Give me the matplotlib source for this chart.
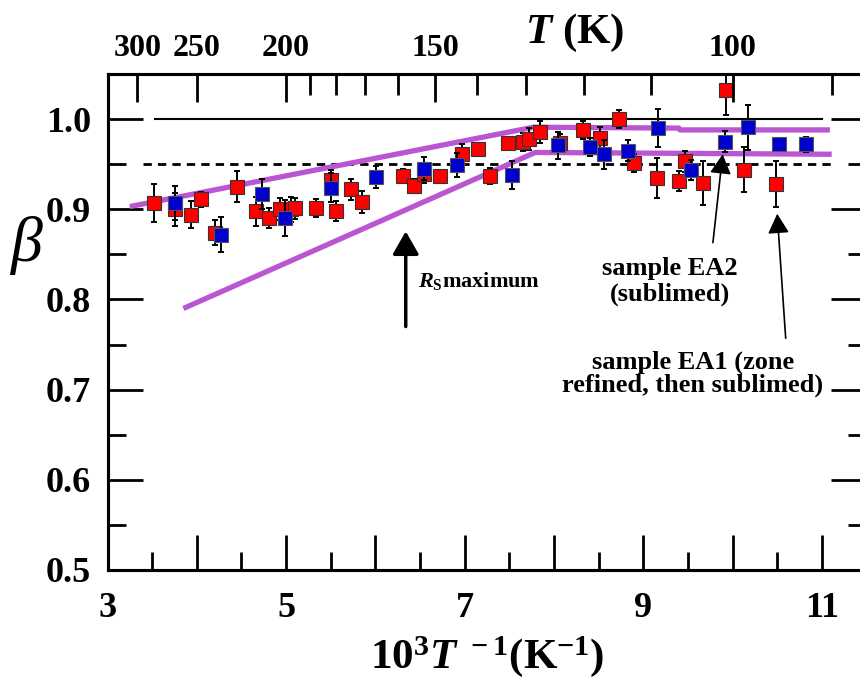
import matplotlib
matplotlib.use("Agg")
import matplotlib.pyplot as plt

plt.rcParams["font.family"] = ["Liberation Serif", "DejaVu Serif"]
plt.rcParams["font.weight"] = "bold"
plt.rcParams["mathtext.fontset"] = "custom"
plt.rcParams["mathtext.rm"] = "Liberation Serif:bold"
plt.rcParams["mathtext.it"] = "Liberation Serif:italic:bold"
plt.rcParams["mathtext.bf"] = "Liberation Serif:bold"

# sample EA1 (red) : 10^3/T, beta, error
red_x = [3.52, 3.76, 3.94, 4.05, 4.20, 4.45, 4.66, 4.81, 4.93, 5.06, 5.10, 5.34, 5.50,
         5.56, 5.73, 5.85, 6.31, 6.43, 6.54, 6.72, 6.97, 7.15, 7.28, 7.48, 7.65, 7.72,
         7.84, 8.07, 8.32, 8.51, 8.73, 8.90, 9.15, 9.40, 9.47, 9.67, 9.93, 10.13, 10.49]
red_y = [0.907, 0.900, 0.894, 0.911, 0.874, 0.925, 0.898, 0.890, 0.900, 0.900, 0.901, 0.901, 0.932,
         0.898, 0.922, 0.908, 0.937, 0.926, 0.939, 0.937, 0.961, 0.967, 0.937, 0.974, 0.975, 0.978,
         0.986, 0.974, 0.988, 0.979, 1.000, 0.951, 0.935, 0.931, 0.953, 0.929, 1.032, 0.944, 0.928]
red_err = [0.021, 0.018, 0.015, 0.008, 0.014, 0.017, 0.016, 0.011, 0.012, 0.014, 0.012, 0.010, 0.012,
           0.011, 0.012, 0.012, 0.008, 0.008, 0.010, 0.006, 0.011, 0.006, 0.009, 0.006, 0.010, 0.012,
           0.012, 0.010, 0.010, 0.012, 0.010, 0.010, 0.022, 0.011, 0.012, 0.024, 0.028, 0.025, 0.025]

# sample EA2 (blue)
blue_x = [3.76, 4.27, 4.73, 4.99, 5.50, 6.01, 6.54, 6.91, 7.53, 8.04, 8.40, 8.56, 8.83,
          9.17, 9.54, 9.92, 10.17, 10.52, 10.82]
blue_y = [0.907, 0.872, 0.917, 0.890, 0.924, 0.936, 0.945, 0.949, 0.938, 0.971, 0.969, 0.961, 0.965,
          0.990, 0.944, 0.975, 0.991, 0.972, 0.972]
blue_err = [0.019, 0.019, 0.017, 0.020, 0.016, 0.012, 0.013, 0.013, 0.016, 0.015, 0.010, 0.016, 0.012,
            0.021, 0.011, 0.012, 0.025, 0.004, 0.008]

# guide lines (purple envelope)
upper_x = [3.25, 7.77, 9.40, 9.41, 11.09]
upper_y = [0.903, 0.991, 0.990, 0.988, 0.988]
lower_x = [3.85, 7.79, 11.11]
lower_y = [0.790, 0.963, 0.961]

top_major_T = [300, 250, 200, 150, 100]
top_minor_T = [190, 180, 170, 160, 140, 130, 120, 110, 90]

fig = plt.figure(figsize=(8.6, 6.81), dpi=100)
ax = fig.add_axes([107.5 / 860, 111 / 681, 759 / 860, 496 / 681])
ax.set_xlim(3, 11.5)
ax.set_ylim(0.5, 1.05)

ax.plot([3.53, 11.0], [1.0, 1.0], color="black", lw=1.5, zorder=1)
ax.plot([3.4, 11.1], [0.95, 0.95], color="black", lw=2, linestyle=(0, (3, 2.2)), zorder=1)

purple = "#BA55D3"
ax.plot(upper_x, upper_y, color=purple, lw=3.8, solid_capstyle="butt", zorder=2)
ax.plot(lower_x, lower_y, color=purple, lw=3.8, solid_capstyle="butt", zorder=2)

ax.errorbar(red_x, red_y, yerr=red_err, fmt="none", ecolor="black", elinewidth=1.4,
            capsize=2.5, capthick=1.4, zorder=3)
ax.plot(red_x, red_y, "s", ms=9.5, mfc="#FF0000", mec="#333333", mew=0.8, zorder=4)
ax.errorbar(blue_x, blue_y, yerr=blue_err, fmt="none", ecolor="black", elinewidth=1.4,
            capsize=2.5, capthick=1.4, zorder=5)
ax.plot(blue_x, blue_y, "s", ms=9.5, mfc="#0000CC", mec="#555555", mew=0.8, zorder=6)

# annotations
ax.annotate("", xy=(6.34, 0.8755), xytext=(6.34, 0.77),
            arrowprops=dict(arrowstyle="-|>,head_width=8,head_length=14", mutation_scale=1,
                            lw=2.5, color="black", shrinkA=0, shrinkB=0))
ax.text(6.48, 0.821, r"$R_\mathrm{S}$maximum", fontsize=16, ha="left", va="center")

ax.annotate("", xy=(9.889, 0.961), xytext=(9.78, 0.863),
            arrowprops=dict(arrowstyle="-|>,head_width=6.5,head_length=12", mutation_scale=1,
                            lw=1.2, color="black", shrinkA=0, shrinkB=0))
ax.text(9.30, 0.820, "sample EA2\n(sublimed)", fontsize=19, ha="center", va="center",
        linespacing=1.1)

ax.annotate("", xy=(10.50, 0.895), xytext=(10.595, 0.757),
            arrowprops=dict(arrowstyle="-|>,head_width=6.5,head_length=12", mutation_scale=1,
                            lw=1.2, color="black", shrinkA=0, shrinkB=0))
ax.text(9.556, 0.7175, "sample EA1 (zone\nrefined, then sublimed)", fontsize=19,
        ha="center", va="center", linespacing=1.0)

# axes styling
for s in ax.spines.values():
    s.set_linewidth(2.2)
ax.set_xticks([3, 4, 5, 6, 7, 8, 9, 10, 11])
ax.set_xticklabels(["3", "", "5", "", "7", "", "9", "", "11"])
ax.set_xticks([3.5, 4.5, 5.5, 6.5, 7.5, 8.5, 9.5, 10.5], minor=True)
ax.set_yticks([0.5, 0.6, 0.7, 0.8, 0.9, 1.0])
ax.set_yticklabels(["0.5", "0.6", "0.7", "0.8", "0.9", "1.0"])
ax.set_yticks([0.55, 0.65, 0.75, 0.85, 0.95, 1.05], minor=True)
ax.tick_params(axis="both", which="major", direction="in", length=25, width=2, labelsize=26)
ax.tick_params(axis="both", which="minor", direction="in", length=13, width=2)
ax.tick_params(axis="x", which="both", top=False, pad=16)
ax.tick_params(axis="y", which="both", right=True, pad=12)

ax.set_xlabel(r"$10^{3}T^{\ -1}(\mathrm{K}^{-1})$", fontsize=31, labelpad=6)
ax.set_ylabel("β", fontsize=46, fontstyle="italic", fontweight="normal", rotation=0,
              ha="center", va="center")
ax.yaxis.set_label_coords(-0.108, 0.655)

top = ax.twiny()
top.set_xlim(ax.get_xlim())
top.set_xticks([1000 / t for t in top_major_T])
top.set_xticklabels([str(t) for t in top_major_T])
top.set_xticks([1000 / t for t in top_minor_T], minor=True)
top.tick_params(axis="x", which="major", direction="in", length=20, width=2, labelsize=23, pad=8)
top.tick_params(axis="x", which="minor", direction="in", length=15, width=2)
for s in top.spines.values():
    s.set_linewidth(2.2)
fig.text(575 / 860, 1 - 33 / 681, r"$T$ (K)", fontsize=31, ha="center", va="center")

fig.savefig("out.png", dpi=100)
